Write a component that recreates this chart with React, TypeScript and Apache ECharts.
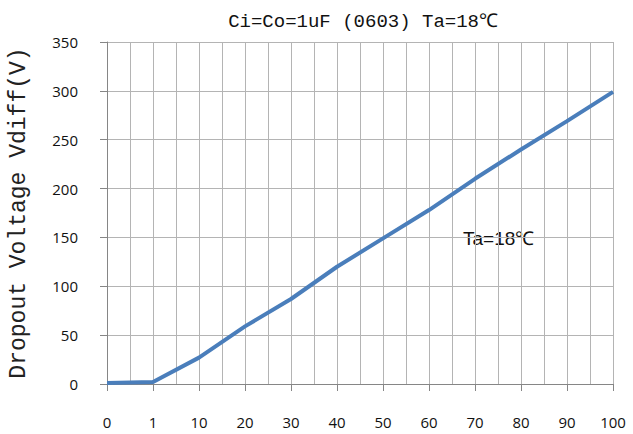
import React, { useEffect, useRef } from "react";
import * as echarts from "echarts";

const categories = ["0", "1", "10", "20", "30", "40", "50", "60", "70", "80", "90", "100"];
const vdiff = [1, 2, 27, 59, 87, 120, 149, 178, 210, 240, 269, 299];
const yTicks = { min: 0, max: 350, interval: 50 };
const titleText = "Ci=Co=1uF (0603) Ta=18℃";
const yName = "Dropout Voltage Vdiff(V)";
const noteText = "Ta=18℃";

export default function App() {
  const ref = useRef<HTMLDivElement>(null);
  useEffect(() => {
    if (!ref.current) return;
    const chart = echarts.init(ref.current, null, { renderer: "svg" });
    chart.setOption({
      animation: false,
      backgroundColor: "#ffffff",
      title: {
        text: titleText,
        right: 130,
        top: 7,
        textStyle: { fontFamily: "Liberation Mono", fontSize: 19, fontWeight: "normal", color: "#111" },
      },
      grid: { left: 107, right: 20, top: 42, bottom: 50, containLabel: false, outerBoundsMode: "none" },
      xAxis: {
        type: "value",
        min: 0,
        max: categories.length - 1,
        interval: 1,
        axisLine: { show: true, lineStyle: { color: "#868686", width: 1 } },
        axisTick: { show: true, length: 7, lineStyle: { color: "#868686" } },
        axisLabel: {
          margin: 30,
          color: "#111",
          fontFamily: "Open Sans",
          fontSize: 15,
          formatter: (v: number) => categories[Math.round(v)] ?? "",
        },
        splitLine: { show: true, lineStyle: { color: "#b4b4b4", width: 1 } },
        minorTick: { show: false, splitNumber: 2 },
        minorSplitLine: { show: true, lineStyle: { color: "#b4b4b4", width: 1 } },
      },
      yAxis: {
        type: "value",
        min: yTicks.min,
        max: yTicks.max,
        interval: yTicks.interval,
        name: yName,
        nameLocation: "middle",
        nameGap: 77,
        nameTextStyle: { fontFamily: "Liberation Mono", fontSize: 23, color: "#222" },
        axisLine: { show: true, lineStyle: { color: "#868686", width: 1 } },
        axisTick: { show: true, length: 7, lineStyle: { color: "#868686" } },
        axisLabel: { margin: 29, color: "#111", fontFamily: "Open Sans", fontSize: 15 },
        splitLine: { show: true, lineStyle: { color: "#b4b4b4", width: 1 } },
      },
      graphic: [
        {
          type: "text",
          left: 463,
          top: 229,
          style: { text: noteText, fontFamily: "Liberation Sans", fontSize: 19, fill: "#111" },
        },
      ],
      series: [
        {
          type: "line",
          data: vdiff.map((v, i) => [i, v]),
          showSymbol: false,
          symbol: "none",
          lineStyle: { color: "#4a7ebb", width: 4 },
        },
      ],
    });
    return () => chart.dispose();
  }, []);
  return <div ref={ref} style={{ width: 633, height: 434, position: "absolute", left: 0, top: 0 }} />;
}
